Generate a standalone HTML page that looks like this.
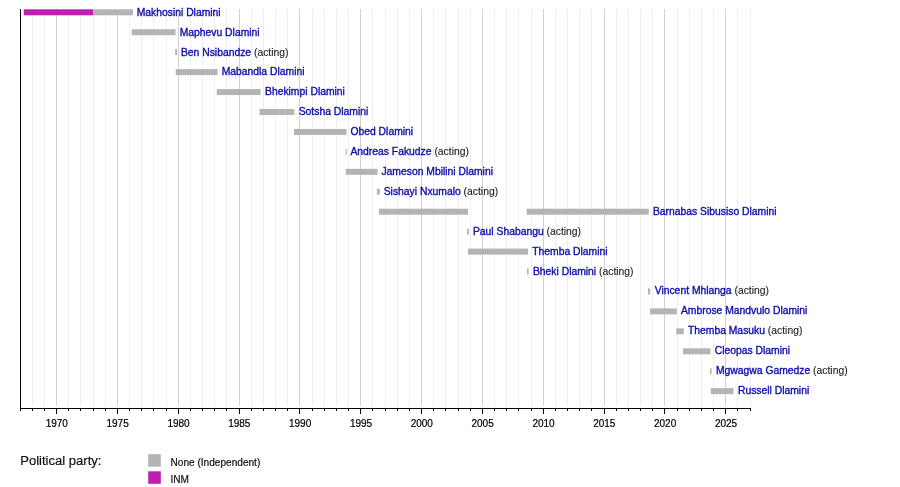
<!DOCTYPE html>
<html lang="en"><head><meta charset="utf-8"><title>Prime Ministers of Eswatini timeline</title>
<style>
html,body{margin:0;padding:0;background:#fff;}
body{width:900px;height:487px;overflow:hidden;font-family:"Liberation Sans",sans-serif;}
svg{display:block;}
text{font-family:"Liberation Sans",sans-serif;}
.lbl{font-size:10.35px;fill:#0f0ca8;stroke:#0f0ca8;stroke-width:0.35px;}
.act{fill:#1c1c1c;stroke:#1c1c1c;stroke-width:0.12px;}
.ax{font-size:10px;fill:#000;stroke:#000;stroke-width:0.2px;}
.lg{font-size:10.1px;fill:#111;stroke:#111;stroke-width:0.2px;}
.lt{font-size:13.05px;fill:#111;stroke:#111;stroke-width:0.2px;}
</style></head><body>
<svg width="900" height="487" viewBox="0 0 900 487">
<rect width="900" height="487" fill="#fff"/>

<g shape-rendering="crispEdges">
<rect x="32.00" y="8.5" width="1" height="397.5" fill="#eeeeee"/>
<rect x="44.00" y="8.5" width="1" height="397.5" fill="#eeeeee"/>
<rect x="56.00" y="8.5" width="1" height="397.5" fill="#d2d2d2"/>
<rect x="68.00" y="8.5" width="1" height="397.5" fill="#eeeeee"/>
<rect x="80.00" y="8.5" width="1" height="397.5" fill="#eeeeee"/>
<rect x="93.00" y="8.5" width="1" height="397.5" fill="#eeeeee"/>
<rect x="105.00" y="8.5" width="1" height="397.5" fill="#eeeeee"/>
<rect x="117.00" y="8.5" width="1" height="397.5" fill="#d2d2d2"/>
<rect x="129.00" y="8.5" width="1" height="397.5" fill="#eeeeee"/>
<rect x="141.00" y="8.5" width="1" height="397.5" fill="#eeeeee"/>
<rect x="153.00" y="8.5" width="1" height="397.5" fill="#eeeeee"/>
<rect x="166.00" y="8.5" width="1" height="397.5" fill="#eeeeee"/>
<rect x="178.00" y="8.5" width="1" height="397.5" fill="#d2d2d2"/>
<rect x="190.00" y="8.5" width="1" height="397.5" fill="#eeeeee"/>
<rect x="202.00" y="8.5" width="1" height="397.5" fill="#eeeeee"/>
<rect x="214.00" y="8.5" width="1" height="397.5" fill="#eeeeee"/>
<rect x="226.00" y="8.5" width="1" height="397.5" fill="#eeeeee"/>
<rect x="239.00" y="8.5" width="1" height="397.5" fill="#d2d2d2"/>
<rect x="251.00" y="8.5" width="1" height="397.5" fill="#eeeeee"/>
<rect x="263.00" y="8.5" width="1" height="397.5" fill="#eeeeee"/>
<rect x="275.00" y="8.5" width="1" height="397.5" fill="#eeeeee"/>
<rect x="287.00" y="8.5" width="1" height="397.5" fill="#eeeeee"/>
<rect x="299.00" y="8.5" width="1" height="397.5" fill="#d2d2d2"/>
<rect x="312.00" y="8.5" width="1" height="397.5" fill="#eeeeee"/>
<rect x="324.00" y="8.5" width="1" height="397.5" fill="#eeeeee"/>
<rect x="336.00" y="8.5" width="1" height="397.5" fill="#eeeeee"/>
<rect x="348.00" y="8.5" width="1" height="397.5" fill="#eeeeee"/>
<rect x="360.00" y="8.5" width="1" height="397.5" fill="#d2d2d2"/>
<rect x="372.00" y="8.5" width="1" height="397.5" fill="#eeeeee"/>
<rect x="385.00" y="8.5" width="1" height="397.5" fill="#eeeeee"/>
<rect x="397.00" y="8.5" width="1" height="397.5" fill="#eeeeee"/>
<rect x="409.00" y="8.5" width="1" height="397.5" fill="#eeeeee"/>
<rect x="421.00" y="8.5" width="1" height="397.5" fill="#d2d2d2"/>
<rect x="433.00" y="8.5" width="1" height="397.5" fill="#eeeeee"/>
<rect x="445.00" y="8.5" width="1" height="397.5" fill="#eeeeee"/>
<rect x="458.00" y="8.5" width="1" height="397.5" fill="#eeeeee"/>
<rect x="470.00" y="8.5" width="1" height="397.5" fill="#eeeeee"/>
<rect x="482.00" y="8.5" width="1" height="397.5" fill="#d2d2d2"/>
<rect x="494.00" y="8.5" width="1" height="397.5" fill="#eeeeee"/>
<rect x="506.00" y="8.5" width="1" height="397.5" fill="#eeeeee"/>
<rect x="518.00" y="8.5" width="1" height="397.5" fill="#eeeeee"/>
<rect x="531.00" y="8.5" width="1" height="397.5" fill="#eeeeee"/>
<rect x="543.00" y="8.5" width="1" height="397.5" fill="#d2d2d2"/>
<rect x="555.00" y="8.5" width="1" height="397.5" fill="#eeeeee"/>
<rect x="567.00" y="8.5" width="1" height="397.5" fill="#eeeeee"/>
<rect x="579.00" y="8.5" width="1" height="397.5" fill="#eeeeee"/>
<rect x="591.00" y="8.5" width="1" height="397.5" fill="#eeeeee"/>
<rect x="604.00" y="8.5" width="1" height="397.5" fill="#d2d2d2"/>
<rect x="616.00" y="8.5" width="1" height="397.5" fill="#eeeeee"/>
<rect x="628.00" y="8.5" width="1" height="397.5" fill="#eeeeee"/>
<rect x="640.00" y="8.5" width="1" height="397.5" fill="#eeeeee"/>
<rect x="652.00" y="8.5" width="1" height="397.5" fill="#eeeeee"/>
<rect x="664.00" y="8.5" width="1" height="397.5" fill="#d2d2d2"/>
<rect x="677.00" y="8.5" width="1" height="397.5" fill="#eeeeee"/>
<rect x="689.00" y="8.5" width="1" height="397.5" fill="#eeeeee"/>
<rect x="701.00" y="8.5" width="1" height="397.5" fill="#eeeeee"/>
<rect x="713.00" y="8.5" width="1" height="397.5" fill="#eeeeee"/>
<rect x="725.00" y="8.5" width="1" height="397.5" fill="#d2d2d2"/>
<rect x="737.00" y="8.5" width="1" height="397.5" fill="#eeeeee"/>
<rect x="750.00" y="8.5" width="1" height="397.5" fill="#eeeeee"/>
</g>
<g>
<rect x="23.75" y="9.30" width="69.25" height="6.00" fill="#bf1eb1"/>
<rect x="93.00" y="9.30" width="40.00" height="6.00" fill="#b4b4b4"/>
<rect x="131.75" y="29.24" width="43.75" height="6.00" fill="#b4b4b4"/>
<rect x="175.20" y="49.18" width="1.80" height="6.00" fill="#b4b4b4"/>
<rect x="175.70" y="69.12" width="41.80" height="6.00" fill="#b4b4b4"/>
<rect x="216.75" y="89.06" width="43.75" height="6.00" fill="#b4b4b4"/>
<rect x="259.50" y="109.00" width="34.90" height="6.00" fill="#b4b4b4"/>
<rect x="294.00" y="128.94" width="52.50" height="6.00" fill="#b4b4b4"/>
<rect x="345.60" y="148.88" width="1.20" height="6.00" fill="#b4b4b4"/>
<rect x="345.80" y="168.82" width="31.70" height="6.00" fill="#b4b4b4"/>
<rect x="376.90" y="188.76" width="2.80" height="6.00" fill="#b4b4b4"/>
<rect x="379.00" y="208.70" width="89.00" height="6.00" fill="#b4b4b4"/>
<rect x="526.75" y="208.70" width="122.00" height="6.00" fill="#b4b4b4"/>
<rect x="467.20" y="228.64" width="1.80" height="6.00" fill="#b4b4b4"/>
<rect x="468.00" y="248.58" width="59.90" height="6.00" fill="#b4b4b4"/>
<rect x="527.00" y="268.52" width="1.60" height="6.00" fill="#b4b4b4"/>
<rect x="648.00" y="288.46" width="2.20" height="6.00" fill="#b4b4b4"/>
<rect x="650.00" y="308.40" width="26.75" height="6.00" fill="#b4b4b4"/>
<rect x="676.25" y="328.34" width="7.50" height="6.00" fill="#b4b4b4"/>
<rect x="683.00" y="348.28" width="27.50" height="6.00" fill="#b4b4b4"/>
<rect x="710.00" y="368.22" width="1.60" height="6.00" fill="#b4b4b4"/>
<rect x="710.75" y="388.16" width="22.75" height="6.00" fill="#b4b4b4"/>
</g>
<g shape-rendering="crispEdges" fill="#000">
<rect x="20" y="8.5" width="1" height="400.5"/>
<rect x="20" y="408.0" width="731" height="1"/>
<rect x="20" y="408.0" width="1" height="3.0"/>
<rect x="32" y="408.0" width="1" height="3.0"/>
<rect x="44" y="408.0" width="1" height="3.0"/>
<rect x="56" y="408.0" width="1" height="5.6"/>
<rect x="68" y="408.0" width="1" height="3.0"/>
<rect x="80" y="408.0" width="1" height="3.0"/>
<rect x="93" y="408.0" width="1" height="3.0"/>
<rect x="105" y="408.0" width="1" height="3.0"/>
<rect x="117" y="408.0" width="1" height="5.6"/>
<rect x="129" y="408.0" width="1" height="3.0"/>
<rect x="141" y="408.0" width="1" height="3.0"/>
<rect x="153" y="408.0" width="1" height="3.0"/>
<rect x="166" y="408.0" width="1" height="3.0"/>
<rect x="178" y="408.0" width="1" height="5.6"/>
<rect x="190" y="408.0" width="1" height="3.0"/>
<rect x="202" y="408.0" width="1" height="3.0"/>
<rect x="214" y="408.0" width="1" height="3.0"/>
<rect x="226" y="408.0" width="1" height="3.0"/>
<rect x="239" y="408.0" width="1" height="5.6"/>
<rect x="251" y="408.0" width="1" height="3.0"/>
<rect x="263" y="408.0" width="1" height="3.0"/>
<rect x="275" y="408.0" width="1" height="3.0"/>
<rect x="287" y="408.0" width="1" height="3.0"/>
<rect x="299" y="408.0" width="1" height="5.6"/>
<rect x="312" y="408.0" width="1" height="3.0"/>
<rect x="324" y="408.0" width="1" height="3.0"/>
<rect x="336" y="408.0" width="1" height="3.0"/>
<rect x="348" y="408.0" width="1" height="3.0"/>
<rect x="360" y="408.0" width="1" height="5.6"/>
<rect x="372" y="408.0" width="1" height="3.0"/>
<rect x="385" y="408.0" width="1" height="3.0"/>
<rect x="397" y="408.0" width="1" height="3.0"/>
<rect x="409" y="408.0" width="1" height="3.0"/>
<rect x="421" y="408.0" width="1" height="5.6"/>
<rect x="433" y="408.0" width="1" height="3.0"/>
<rect x="445" y="408.0" width="1" height="3.0"/>
<rect x="458" y="408.0" width="1" height="3.0"/>
<rect x="470" y="408.0" width="1" height="3.0"/>
<rect x="482" y="408.0" width="1" height="5.6"/>
<rect x="494" y="408.0" width="1" height="3.0"/>
<rect x="506" y="408.0" width="1" height="3.0"/>
<rect x="518" y="408.0" width="1" height="3.0"/>
<rect x="531" y="408.0" width="1" height="3.0"/>
<rect x="543" y="408.0" width="1" height="5.6"/>
<rect x="555" y="408.0" width="1" height="3.0"/>
<rect x="567" y="408.0" width="1" height="3.0"/>
<rect x="579" y="408.0" width="1" height="3.0"/>
<rect x="591" y="408.0" width="1" height="3.0"/>
<rect x="604" y="408.0" width="1" height="5.6"/>
<rect x="616" y="408.0" width="1" height="3.0"/>
<rect x="628" y="408.0" width="1" height="3.0"/>
<rect x="640" y="408.0" width="1" height="3.0"/>
<rect x="652" y="408.0" width="1" height="3.0"/>
<rect x="664" y="408.0" width="1" height="5.6"/>
<rect x="677" y="408.0" width="1" height="3.0"/>
<rect x="689" y="408.0" width="1" height="3.0"/>
<rect x="701" y="408.0" width="1" height="3.0"/>
<rect x="713" y="408.0" width="1" height="3.0"/>
<rect x="725" y="408.0" width="1" height="5.6"/>
<rect x="737" y="408.0" width="1" height="3.0"/>
<rect x="750" y="408.0" width="1" height="3.0"/>
</g>
<g class="ax" text-anchor="middle">
<text x="56.8" y="426.7">1970</text>
<text x="117.6" y="426.7">1975</text>
<text x="178.5" y="426.7">1980</text>
<text x="239.3" y="426.7">1985</text>
<text x="300.1" y="426.7">1990</text>
<text x="361.0" y="426.7">1995</text>
<text x="421.8" y="426.7">2000</text>
<text x="482.6" y="426.7">2005</text>
<text x="543.5" y="426.7">2010</text>
<text x="604.3" y="426.7">2015</text>
<text x="665.1" y="426.7">2020</text>
<text x="726.0" y="426.7">2025</text>
</g>
<g class="lbl">
<text x="136.70" y="15.75">Makhosini Dlamini</text>
<text x="179.70" y="35.66">Maphevu Dlamini</text>
<text x="180.95" y="55.57">Ben Nsibandze<tspan class="act"> (acting)</tspan></text>
<text x="221.70" y="75.47">Mabandla Dlamini</text>
<text x="265.00" y="95.38">Bhekimpi Dlamini</text>
<text x="298.70" y="115.29">Sotsha Dlamini</text>
<text x="350.45" y="135.20">Obed Dlamini</text>
<text x="350.45" y="155.11">Andreas Fakudze<tspan class="act"> (acting)</tspan></text>
<text x="381.45" y="175.01">Jameson Mbilini Dlamini</text>
<text x="383.70" y="194.92">Sishayi Nxumalo<tspan class="act"> (acting)</tspan></text>
<text x="652.95" y="214.83">Barnabas Sibusiso Dlamini</text>
<text x="472.95" y="234.74">Paul Shabangu<tspan class="act"> (acting)</tspan></text>
<text x="532.20" y="254.65">Themba Dlamini</text>
<text x="532.95" y="274.55">Bheki Dlamini<tspan class="act"> (acting)</tspan></text>
<text x="654.70" y="294.46">Vincent Mhlanga<tspan class="act"> (acting)</tspan></text>
<text x="680.95" y="314.37">Ambrose Mandvulo Dlamini</text>
<text x="687.95" y="334.28">Themba Masuku<tspan class="act"> (acting)</tspan></text>
<text x="714.70" y="354.19">Cleopas Dlamini</text>
<text x="715.95" y="374.09">Mgwagwa Gamedze<tspan class="act"> (acting)</tspan></text>
<text x="737.95" y="394.00">Russell Dlamini</text>
</g>
<text class="lt" x="20.2" y="465">Political party:</text>
<rect x="148.2" y="454.2" width="12.6" height="12.5" fill="#b4b4b4"/>
<rect x="148.2" y="471.3" width="12.6" height="12.5" fill="#bf1eb1"/>
<text class="lg" x="170.5" y="465.8">None (Independent)</text>
<text class="lg" x="170.5" y="482.9">INM</text>
</svg>
</body></html>
